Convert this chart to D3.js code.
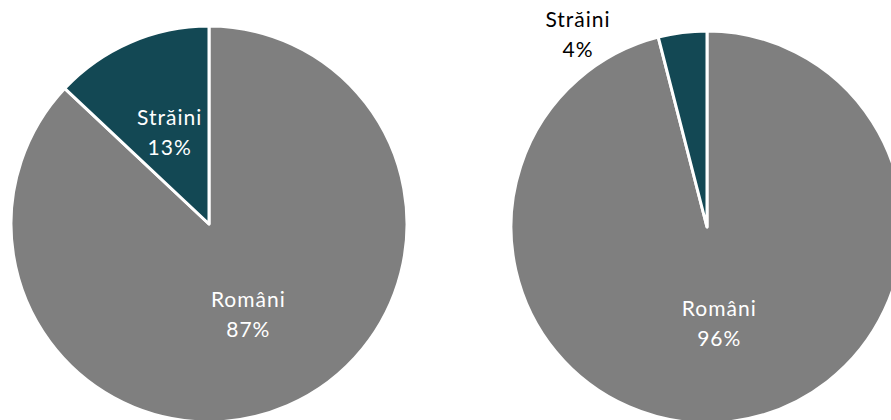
<!DOCTYPE html>
<html>
<head>
<meta charset="utf-8">
<script src="https://cdn.jsdelivr.net/npm/d3@7"></script>
<style>
  html, body { margin: 0; padding: 0; background: #fff; }
  svg { display: block; }
</style>
</head>
<body>
<svg id="chart" width="891" height="420"></svg>
<script>
// Data
const categories = ["Români", "Străini"];
const pieLeftValues = [87, 13];
const pieRightValues = [96, 4];
const percentLabelsLeft = ["87%", "13%"];
const percentLabelsRight = ["96%", "4%"];

const colors = d3.scaleOrdinal().domain(categories).range(["#7f7f7f", "#134854"]);

const svg = d3.select("#chart");
const font = "Lato, 'Open Sans', sans-serif";

function drawPie(cx, cy, R, values, pctLabels, outsideOffsets) {
  const data = categories.map((c, i) => ({ cat: c, value: values[i], pct: pctLabels[i] }));
  const pie = d3.pie().sort(null).value(d => d.value);
  const arc = d3.arc().innerRadius(0).outerRadius(R);
  const labelArc = d3.arc().innerRadius(R * 0.5).outerRadius(R * 0.5);
  const g = svg.append("g").attr("transform", `translate(${cx},${cy})`);
  const arcs = pie(data);
  g.selectAll("path").data(arcs).join("path")
    .attr("d", arc)
    .attr("fill", d => colors(d.data.cat))
    .attr("stroke", "#fff")
    .attr("stroke-width", 3)
    .attr("stroke-linejoin", "round");

  arcs.forEach((d, i) => {
    let [x, y] = labelArc.centroid(d);
    const inside = !(outsideOffsets && outsideOffsets[i]);
    if (!inside) { x = outsideOffsets[i][0]; y = outsideOffsets[i][1]; }
    const fill = inside ? "#ffffff" : "#000000";
    const t = g.append("text")
      .attr("text-anchor", "middle")
      .attr("font-family", font)
      .attr("font-size", 21)
      .attr("font-weight", 400)
      .attr("letter-spacing", 1)
      .attr("fill", fill);
    t.append("tspan").attr("x", x).attr("y", y - 8).text(d.data.cat);
    t.append("tspan").attr("x", x).attr("y", y + 22).text(d.data.pct);
  });
}

drawPie(209, 224, 198, pieLeftValues, percentLabelsLeft, null);
drawPie(707, 227, 196, pieRightValues, percentLabelsRight, [null, [-129, -192]]);
</script>
</body>
</html>
